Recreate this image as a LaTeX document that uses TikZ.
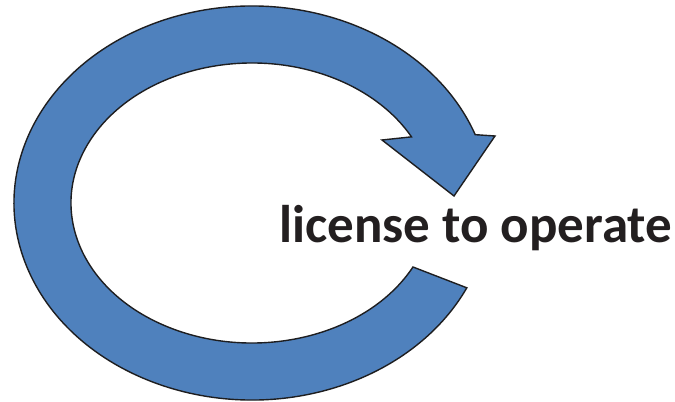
\documentclass[tikz,border=0pt]{standalone}
\usepackage{fontspec}
\setmainfont{Carlito}
\usetikzlibrary{calc}
\definecolor{ringblue}{RGB}{79,129,189}
\definecolor{ringedge}{RGB}{30,30,32}
\definecolor{labeltext}{RGB}{35,31,32}
\begin{document}
\begin{tikzpicture}[x=1bp,y=1bp,
    ring/.style={fill=ringblue, draw=ringedge, line width=1.4bp, line join=miter},
    cyclelabel/.style={inner sep=0pt, anchor=base west, text=labeltext, font=\fontsize{53bp}{58bp}\selectfont\bfseries}]
  \useasboundingbox (0,0) rectangle (675,401);
  \coordinate (c) at (252,198);
  \coordinate (hin) at (382,261);
  \coordinate (tip) at (454,205);
  \coordinate (hout) at (495,265);
  \draw[ring] ($(c)+(-27.2:181 and 140)$)
    arc[start angle=-27.2, end angle=-331.8, x radius=181, y radius=140]
    -- (hin) -- (tip) -- (hout) -- ($(c)+(20.3:238 and 197)$)
    arc[start angle=20.3, end angle=334.5, x radius=238, y radius=197] -- cycle;
  \node[cyclelabel] (lto) at (279,159) {license to operate};
\end{tikzpicture}
\end{document}
